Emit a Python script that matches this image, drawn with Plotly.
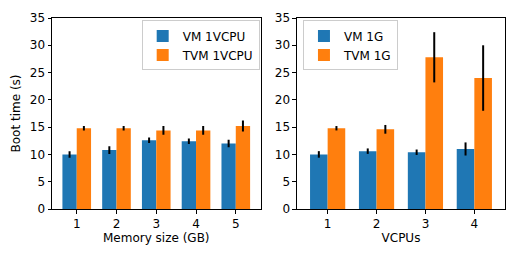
import plotly.graph_objects as go

mem_sizes = [1, 2, 3, 4, 5]
vm_mem = [10.0, 10.8, 12.6, 12.4, 12.0]
vm_mem_err = [0.6, 0.7, 0.5, 0.5, 0.7]
tvm_mem = [14.8, 14.8, 14.4, 14.4, 15.2]
tvm_mem_err = [0.4, 0.4, 0.8, 0.8, 1.0]

vcpus = [1, 2, 3, 4]
vm_cpu = [10.0, 10.6, 10.4, 11.0]
vm_cpu_err = [0.6, 0.5, 0.5, 1.2]
tvm_cpu = [14.8, 14.6, 27.8, 24.0]
tvm_cpu_err = [0.4, 0.8, 4.6, 6.0]

BLUE = "#1f77b4"
ORANGE = "#ff7f0e"
W = 0.36
FONT = dict(family="DejaVu Sans", size=12, color="black")

fig = go.Figure()

def add_bar(x, y, err, color, name, xa, ya, offset, legend):
    fig.add_trace(go.Bar(
        x=x, y=y, width=W, offset=offset, name=name,
        marker=dict(color=color, line=dict(width=0)),
        error_y=dict(type="data", array=err, visible=True, color="black",
                     thickness=2, width=0),
        xaxis=xa, yaxis=ya, legend=legend,
    ))

add_bar(mem_sizes, vm_mem, vm_mem_err, BLUE, "VM 1VCPU", "x", "y", -W, "legend")
add_bar(mem_sizes, tvm_mem, tvm_mem_err, ORANGE, "TVM 1VCPU", "x", "y", 0, "legend")
add_bar(vcpus, vm_cpu, vm_cpu_err, BLUE, "VM 1G", "x2", "y2", -W, "legend2")
add_bar(vcpus, tvm_cpu, tvm_cpu_err, ORANGE, "TVM 1G", "x2", "y2", 0, "legend2")

axis_common = dict(showline=True, linecolor="black", linewidth=1, mirror=True,
                   ticks="outside", ticklen=3.5, tickcolor="black", tickwidth=1,
                   showgrid=False, zeroline=False, tickfont=FONT, automargin=False)

legend_common = dict(bgcolor="rgba(255,255,255,0.8)", bordercolor="#cccccc",
                     borderwidth=1, font=FONT, xanchor="left", yanchor="top",
                     tracegroupgap=0, itemsizing="constant")

# page body has an 8px default margin; compensate so the plot lands where the reference has it
fig.update_layout(
    width=510, height=251,
    margin=dict(l=44, r=13, t=10, b=50),
    paper_bgcolor="white", plot_bgcolor="white",
    barmode="overlay",
    font=FONT,
    xaxis=dict(domain=[0, 0.4603], range=[0.378, 5.622], tickvals=mem_sizes,
               title=dict(text="Memory size (GB)", font=FONT, standoff=3), anchor="y", **axis_common),
    yaxis=dict(range=[0, 35], dtick=5, title=dict(text="Boot time (s)", font=FONT, standoff=6),
               anchor="x", **axis_common),
    xaxis2=dict(domain=[0.5408, 1], range=[0.373, 4.627], tickvals=vcpus,
                title=dict(text="VCPUs", font=FONT, standoff=3), anchor="y2", **axis_common),
    yaxis2=dict(range=[0, 35], dtick=5, anchor="x2", **axis_common),
    legend=dict(x=0.198, y=0.987, **legend_common),
    legend2=dict(x=0.554, y=0.987, **legend_common),
)

fig.write_html("out.html")
